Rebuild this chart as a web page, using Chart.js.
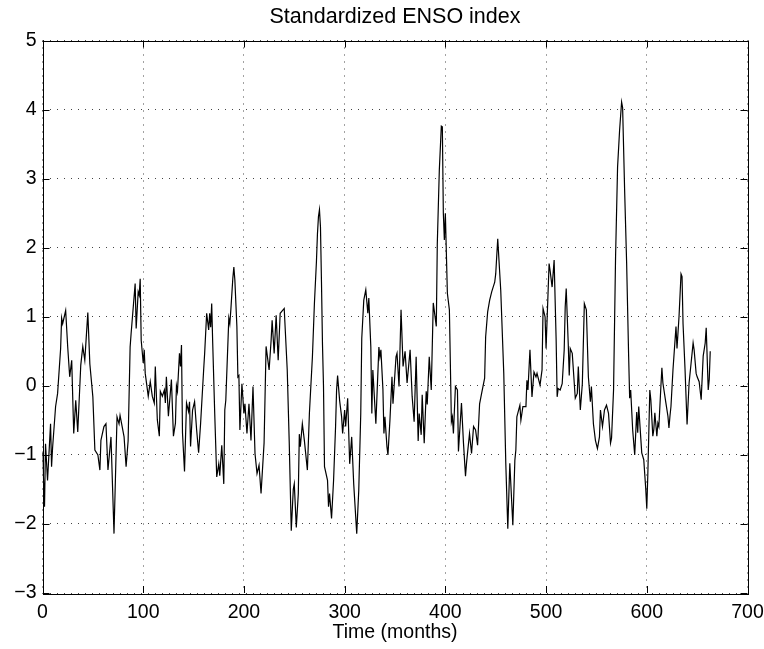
<!DOCTYPE html>
<html>
<head>
<meta charset="utf-8">
<title>Standardized ENSO index</title>
<script src="https://cdn.jsdelivr.net/npm/chart.js@4.4.1/dist/chart.umd.min.js"></script>
<style>
    body { margin: 0; background: #fff; }
    #wrap { width: 764px; height: 649px; }
</style>
</head>
<body>
<div id="wrap"><canvas id="ensoChart" width="764" height="649"></canvas></div>
<script>
// values (month, index)
const months = [
    0, 2, 3, 5, 8, 9, 10, 13, 15, 18, 19, 20, 23, 25, 27, 29, 31, 33, 35, 38,
    40, 42, 45, 47, 50, 52, 55, 57, 58, 61, 63, 65, 68, 71, 74, 76, 77, 81, 83, 85,
    87, 88, 92, 93, 95, 96, 97, 98, 100, 101, 102, 105, 107, 109, 111, 112, 114, 116, 117, 119,
    121, 122, 123, 125, 128, 130, 132, 133, 134, 136, 137, 138, 139, 141, 143, 145, 146, 147, 149, 151,
    153, 155, 157, 160, 161, 163, 165, 166, 167, 168, 169, 171, 173, 175, 176, 178, 180, 181, 182, 185,
    186, 187, 189, 190, 191, 193, 194, 195, 196, 198, 200, 201, 203, 205, 207, 209, 211, 213, 215, 217,
    220, 222, 225, 227, 228, 230, 232, 234, 236, 240, 243, 245, 247, 249, 250, 252, 254, 255, 256, 258,
    260, 263, 265, 268, 270, 272, 273, 274, 275, 276, 277, 278, 279, 280, 283, 284, 285, 287, 289, 291,
    292, 293, 295, 297, 298, 300, 301, 303, 305, 307, 309, 312, 314, 316, 317, 319, 321, 323, 324, 326,
    327, 328, 331, 334, 335, 336, 338, 339, 340, 342, 343, 345, 347, 348, 351, 352, 354, 356, 358, 360,
    362, 365, 367, 369, 371, 373, 374, 376, 377, 379, 381, 382, 384, 386, 388, 391, 392, 394, 396, 397,
    398, 399, 400, 402, 404, 406, 407, 408, 410, 412, 413, 416, 418, 420, 421, 424, 426, 428, 430, 432,
    434, 436, 439, 440, 442, 444, 446, 449, 450, 452, 455, 458, 460, 462, 464, 467, 469, 470, 471, 474,
    475, 477, 480, 481, 482, 484, 486, 488, 490, 491, 494, 496, 497, 499, 500, 503, 504, 506, 508, 510,
    511, 512, 514, 516, 518, 519, 520, 522, 523, 524, 526, 529, 531, 532, 534, 536, 538, 540, 542, 544,
    545, 547, 549, 551, 553, 554, 556, 558, 560, 562, 564, 565, 567, 569, 571, 573, 575, 576, 578, 580,
    582, 583, 584, 586, 588, 590, 591, 592, 594, 595, 597, 599, 600, 601, 603, 604, 606, 607, 608, 610,
    611, 612, 614, 615, 616, 619, 621, 622, 623, 624, 626, 629, 630, 632, 634, 635, 636, 638, 640, 642,
    644, 646, 647, 649, 650, 652, 654, 656, 658, 659, 661, 662, 663
];
const ensoIndex = [
    -0.95, -1.75, -0.84, -1.37, -0.55, -1.17, -0.9, -0.3, -0.11, 0.54, 0.98, 0.9, 1.09, 0.57, 0.13, 0.37, -0.69, -0.21, -0.67, 0.3,
    0.57, 0.37, 1.06, 0.32, -0.16, -0.93, -1.0, -1.22, -0.79, -0.59, -0.55, -1.22, -0.74, -2.14, -0.45, -0.55, -0.43, -0.74, -1.17, -0.8,
    0.56, 0.76, 1.48, 0.83, 1.36, 1.31, 1.55, 0.66, 0.33, 0.52, 0.18, -0.15, 0.06, -0.15, -0.25, 0.28, -0.49, -0.73, -0.08, -0.15,
    -0.06, -0.25, 0.13, -0.44, 0.09, -0.73, -0.54, 0.0, -0.08, 0.47, 0.28, 0.59, -0.68, -1.24, -0.25, -0.37, -0.23, -0.88, -0.35, -0.23,
    -0.63, -0.97, -0.54, 0.23, 0.47, 1.05, 0.81, 1.05, 0.85, 1.19, 0.62, -0.4, -1.32, -1.13, -1.3, -0.86, -1.42, -0.35, -0.21, 0.98,
    0.9, 1.1, 1.56, 1.72, 1.53, 0.86, 0.13, 0.15, -0.64, 0.03, -0.4, -0.26, -0.69, -0.26, -0.79, -0.01, -0.98, -1.27, -1.15, -1.56,
    -0.83, 0.57, 0.23, 0.66, 0.95, 0.47, 1.02, 0.37, 1.05, 1.12, 0.23, -0.83, -2.1, -1.5, -1.42, -2.05, -1.56, -0.7, -0.88, -0.55,
    -0.79, -1.22, -0.4, 0.42, 1.2, 1.8, 2.2, 2.45, 2.55, 2.3, 1.5, 0.6, 0.0, -1.17, -1.37, -1.75, -1.56, -1.92, -1.37, -0.59,
    -0.06, 0.15, -0.21, -0.45, -0.69, -0.35, -0.59, -0.18, -1.13, -0.74, -1.42, -2.14, -1.52, -0.4, 0.69, 1.24, 1.39, 1.05, 1.27, 0.56,
    -0.4, 0.23, -0.55, 0.56, 0.42, 0.52, -0.05, -0.69, -0.45, -0.88, -1.0, -0.49, 0.13, -0.26, 0.42, 0.47, -0.01, 1.1, 0.28, 0.5,
    0.04, 0.52, -0.15, -0.52, 0.42, -0.8, -0.4, -0.71, -0.13, -0.83, -0.08, -0.27, 0.42, -0.06, 1.2, 0.86, 2.06, 3.12, 3.76, 3.75,
    2.5, 2.11, 2.5, 1.34, 1.1, -0.52, -0.45, -0.69, -0.01, -0.06, -0.95, -0.25, -0.83, -1.31, -1.12, -0.69, -0.98, -0.59, -0.64, -0.86,
    -0.26, -0.11, 0.11, 0.71, 1.07, 1.24, 1.36, 1.5, 1.62, 2.13, 1.38, 0.18, -1.12, -2.07, -1.12, -2.02, -1.08, -0.93, -0.45, -0.28,
    -0.5, -0.3, -0.3, 0.08, -0.06, 0.52, -0.16, 0.2, 0.13, 0.18, 0.01, 0.23, 1.12, 1.0, 0.54, 1.77, 1.67, 1.43, 1.82, 0.66,
    -0.16, -0.04, -0.06, 0.03, 0.52, 1.14, 1.41, 0.61, 0.15, 0.54, 0.47, -0.18, -0.11, 0.28, -0.35, 0.03, 1.19, 1.1, 0.13, -0.23,
    -0.01, -0.55, -0.79, -0.91, -0.74, -0.35, -0.59, -0.35, -0.28, -0.4, -0.83, -0.76, -0.06, 1.87, 3.17, 3.7, 4.11, 4.03, 2.83, 1.77,
    0.42, -0.18, -0.06, -0.64, -1.0, -0.38, -0.68, -0.3, -0.75, -0.97, -1.07, -1.5, -1.78, -1.3, -0.06, -0.2, -0.73, -0.63, -0.39, -0.73,
    -0.54, -0.59, -0.01, 0.26, 0.04, -0.25, -0.44, -0.61, -0.44, -0.3, 0.23, 0.86, 0.54, 1.0, 1.62, 1.58, 0.9, 0.23, -0.56, 0.04,
    0.33, 0.62, 0.52, 0.18, 0.13, 0.06, -0.2, 0.43, 0.62, 0.84, -0.06, 0.09, 0.5
];
const xTicks = [0, 100, 200, 300, 400, 500, 600, 700];
const yTicks = [-3, -2, -1, 0, 1, 2, 3, 4, 5];
const chartTitle = "Standardized ENSO index";
const xTitle = "Time (months)";

const fontFamily = "'Liberation Sans', Arial, Helvetica, sans-serif";
Chart.defaults.font.family = fontFamily;
Chart.defaults.color = "#000";

var points = [];
for(let i = 0; i < months.length; i++){
    points.push({x: months[i], y: ensoIndex[i]});
}

// frame, inward tick marks and title, matlab style
const matlabFrame = {
    id: "matlabFrame",
    afterDraw(chart){
        const ctx = chart.ctx;
        const area = chart.chartArea;
        const xs = chart.scales.x, ys = chart.scales.y;
        ctx.save();
        ctx.strokeStyle = "#000";
        ctx.lineWidth = 1;
        ctx.beginPath();
        for(let i = 0; i < xTicks.length; i++){
            let px = Math.round(xs.getPixelForValue(xTicks[i])) + 0.5;
            ctx.moveTo(px, area.bottom); ctx.lineTo(px, area.bottom - 7);
            ctx.moveTo(px, area.top); ctx.lineTo(px, area.top + 7);
        }
        for(let i = 0; i < yTicks.length; i++){
            let py = Math.round(ys.getPixelForValue(yTicks[i])) + 0.5;
            ctx.moveTo(area.left, py); ctx.lineTo(area.left + 7, py);
            ctx.moveTo(area.right, py); ctx.lineTo(area.right - 7, py);
        }
        ctx.stroke();
        ctx.strokeRect(Math.round(area.left) + 0.5, Math.round(area.top) + 0.5,
            Math.round(area.right - area.left), Math.round(area.bottom - area.top));
        ctx.fillStyle = "#000";
        ctx.font = "21.5px " + fontFamily;
        ctx.textAlign = "center";
        ctx.textBaseline = "middle";
        ctx.fillText(chartTitle, (area.left + area.right) / 2, 17);
        ctx.restore();
    }
};

var config = {
    type: "line",
    data: {
        datasets: [{
            label: "ENSO",
            data: points,
            borderColor: "#000",
            borderWidth: 1.2,
            pointRadius: 0,
            tension: 0,
            fill: false
        }]
    },
    options: {
        responsive: false,
        animation: false,
        devicePixelRatio: 1,
        layout: {
            padding: { left: 0, right: 16.5, top: 40.5, bottom: 0 }
        },
        plugins: {
            legend: { display: false },
            tooltip: { enabled: false }
        },
        scales: {
            x: {
                type: "linear",
                min: 0,
                max: 700,
                afterFit: function(scale){
                    scale.height = 56;
                    scale.paddingLeft = 0;
                    scale.paddingRight = 0;
                },
                afterBuildTicks: function(scale){ scale.ticks = xTicks.map(v => ({value: v})); },
                ticks: {
                    padding: 8,
                    maxRotation: 0,
                    font: { size: 19.5 },
                    color: "#000"
                },
                grid: {
                    color: "#444",
                    lineWidth: 1,
                    drawTicks: false
                },
                border: { display: false, dash: [1, 6] },
                title: {
                    display: true,
                    text: xTitle,
                    font: { size: 19.5 },
                    color: "#000",
                    padding: { top: 0, bottom: 5 }
                }
            },
            y: {
                type: "linear",
                min: -3,
                max: 5,
                afterFit: function(scale){
                    scale.width = 42.5;
                    scale.paddingTop = 0;
                    scale.paddingBottom = 0;
                },
                afterBuildTicks: function(scale){ scale.ticks = yTicks.map(v => ({value: v})); },
                ticks: {
                    padding: 6,
                    font: { size: 19.5 },
                    color: "#000",
                    callback: function(v){ return v < 0 ? "\u2212" + Math.abs(v) : String(v); }
                },
                grid: {
                    color: "#444",
                    lineWidth: 1,
                    drawTicks: false
                },
                border: { display: false, dash: [1, 6] }
            }
        }
    },
    plugins: [matlabFrame]
};

var ensoChart = new Chart(document.getElementById("ensoChart"), config);
</script>
</body>
</html>
